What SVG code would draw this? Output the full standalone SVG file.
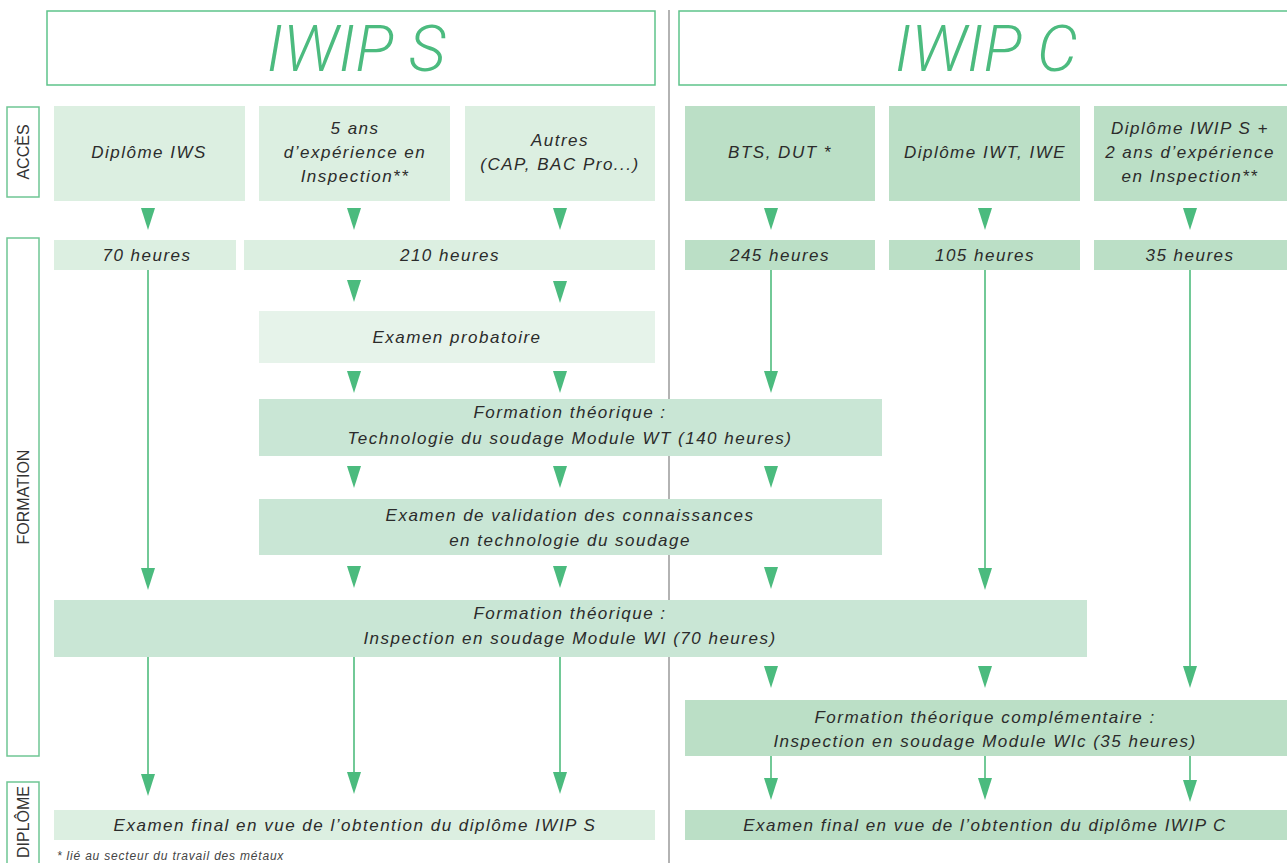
<svg xmlns="http://www.w3.org/2000/svg" xmlns:xlink="http://www.w3.org/1999/xlink" width="1287" height="863" viewBox="0 0 1287 863">
<style>
.t{font-family:"Liberation Sans",Arial,sans-serif;font-style:italic;font-size:17px;fill:#2b2b2b;text-anchor:middle;letter-spacing:1.5px}
.h{font-family:Roboto,"Liberation Sans",sans-serif;font-style:italic;font-weight:300;font-size:64px;fill:#4cbb7f;text-anchor:middle}
.s{font-family:"Liberation Sans",Arial,sans-serif;font-size:16px;fill:#333;text-anchor:middle}
.hb{fill:#fff;stroke:#5ec38a;stroke-width:1.5}
.sb{fill:#fff;stroke:#6fc694;stroke-width:1.5}
.l1{fill:#dcefe1}
.l0{fill:#e6f3ea}
.m{fill:#c9e6d5}
.r{fill:#bbdfc6}
.ln{stroke:#72c997;stroke-width:2;fill:none}
.ar{fill:#4bbb7e}
.fn{font-family:"Liberation Sans",Arial,sans-serif;font-style:italic;font-size:12px;fill:#444;letter-spacing:0.8px}
</style>
<defs>
<polygon id="tri" points="-7,0 7,0 0,22"/>
</defs>
<rect width="1287" height="863" fill="#fff"/>
<line x1="669" y1="10" x2="669" y2="863" stroke="#b3b3b3" stroke-width="2"/>

<g id="hdr-s"><rect class="hb" x="47" y="11" width="608" height="74"/><text class="h" x="356" y="71">IWIP S</text></g>
<g id="hdr-c"><rect class="hb" x="679" y="11" width="620" height="74"/><text class="h" x="986" y="71">IWIP C</text></g>

<g id="lbl-acces"><rect class="sb" x="7" y="107" width="32" height="90"/><text class="s" transform="translate(29,152) rotate(-90)">ACCÈS</text></g>
<g id="lbl-formation"><rect class="sb" x="7" y="238" width="32" height="518"/><text class="s" transform="translate(29,497) rotate(-90)">FORMATION</text></g>
<g id="lbl-diplome"><rect class="sb" x="7" y="782" width="32" height="90"/><text class="s" transform="translate(29,822) rotate(-90)">DIPLÔME</text></g>

<g id="a-iws"><rect class="l1" x="54" y="106" width="191" height="95"/><text class="t" x="149" y="158">Diplôme IWS</text></g>
<g id="a-5ans"><rect class="l1" x="259" y="106" width="191" height="95"/><text class="t" x="355" y="134">5 ans</text><text class="t" x="355" y="158">d’expérience en</text><text class="t" x="355" y="182">Inspection**</text></g>
<g id="a-autres"><rect class="l1" x="465" y="106" width="190" height="95"/><text class="t" x="560" y="146">Autres</text><text class="t" x="560" y="170">(CAP, BAC Pro...)</text></g>
<g id="a-bts"><rect class="r" x="685" y="106" width="190" height="95"/><text class="t" x="780" y="158">BTS, DUT  *</text></g>
<g id="a-iwt"><rect class="r" x="889" y="106" width="191" height="95"/><text class="t" x="985" y="158">Diplôme IWT, IWE</text></g>
<g id="a-iwips"><rect class="r" x="1094" y="106" width="193" height="95"/><text class="t" x="1190" y="134">Diplôme IWIP S +</text><text class="t" x="1190" y="158">2 ans d’expérience</text><text class="t" x="1190" y="182">en Inspection**</text></g>

<g id="h70"><rect class="l1" x="54" y="240" width="182" height="30"/><text class="t" x="147" y="261">70 heures</text></g>
<g id="h210"><rect class="l1" x="244" y="240" width="411" height="30"/><text class="t" x="450" y="261">210 heures</text></g>
<g id="h245"><rect class="r" x="685" y="240" width="190" height="30"/><text class="t" x="780" y="261">245 heures</text></g>
<g id="h105"><rect class="r" x="889" y="240" width="191" height="30"/><text class="t" x="985" y="261">105 heures</text></g>
<g id="h35"><rect class="r" x="1094" y="240" width="193" height="30"/><text class="t" x="1190" y="261">35 heures</text></g>

<g id="probatoire"><rect class="l0" x="259" y="311" width="396" height="52"/><text class="t" x="457" y="343">Examen probatoire</text></g>
<g id="wt"><rect class="m" x="259" y="399" width="623" height="57"/><text class="t" x="570" y="418">Formation théorique :</text><text class="t" x="570" y="444">Technologie du soudage Module WT (140 heures)</text></g>
<g id="validation"><rect class="m" x="259" y="499" width="623" height="56"/><text class="t" x="570" y="521">Examen de validation des connaissances</text><text class="t" x="570" y="546">en technologie du soudage</text></g>
<g id="wi"><rect class="m" x="54" y="600" width="1033" height="57"/><text class="t" x="570" y="619">Formation théorique :</text><text class="t" x="570" y="644">Inspection en soudage Module WI (70 heures)</text></g>
<g id="wic"><rect class="r" x="685" y="700" width="602" height="56"/><text class="t" x="985" y="723">Formation théorique complémentaire :</text><text class="t" x="985" y="747">Inspection en soudage Module WIc (35 heures)</text></g>
<g id="final-s"><rect class="l1" x="54" y="810" width="601" height="30"/><text class="t" x="355" y="831">Examen final en vue de l’obtention du diplôme IWIP S</text></g>
<g id="final-c"><rect class="r" x="685" y="810" width="602" height="30"/><text class="t" x="985" y="831">Examen final en vue de l’obtention du diplôme IWIP C</text></g>

<g id="connectors">
<line class="ln" x1="148" y1="270" x2="148" y2="570"/>
<line class="ln" x1="771" y1="270" x2="771" y2="373"/>
<line class="ln" x1="985" y1="270" x2="985" y2="570"/>
<line class="ln" x1="1190" y1="270" x2="1190" y2="668"/>
<line class="ln" x1="148" y1="657" x2="148" y2="775"/>
<line class="ln" x1="354" y1="657" x2="354" y2="775"/>
<line class="ln" x1="560" y1="657" x2="560" y2="775"/>
<line class="ln" x1="771" y1="756" x2="771" y2="780"/>
<line class="ln" x1="985" y1="756" x2="985" y2="780"/>
<line class="ln" x1="1190" y1="756" x2="1190" y2="782"/>
<g class="ar">
<use xlink:href="#tri" x="148" y="208"/><use xlink:href="#tri" x="354" y="208"/><use xlink:href="#tri" x="560" y="208"/>
<use xlink:href="#tri" x="771" y="208"/><use xlink:href="#tri" x="985" y="208"/><use xlink:href="#tri" x="1190" y="208"/>
<use xlink:href="#tri" x="354" y="280"/><use xlink:href="#tri" x="560" y="281"/>
<use xlink:href="#tri" x="354" y="371"/><use xlink:href="#tri" x="560" y="371"/><use xlink:href="#tri" x="771" y="371"/>
<use xlink:href="#tri" x="354" y="466"/><use xlink:href="#tri" x="560" y="466"/><use xlink:href="#tri" x="771" y="466"/>
<use xlink:href="#tri" x="148" y="568"/><use xlink:href="#tri" x="354" y="566"/><use xlink:href="#tri" x="560" y="566"/><use xlink:href="#tri" x="771" y="567"/><use xlink:href="#tri" x="985" y="568"/>
<use xlink:href="#tri" x="771" y="666"/><use xlink:href="#tri" x="985" y="666"/><use xlink:href="#tri" x="1190" y="666"/>
<use xlink:href="#tri" x="148" y="774"/><use xlink:href="#tri" x="354" y="772"/><use xlink:href="#tri" x="560" y="772"/>
<use xlink:href="#tri" x="771" y="778"/><use xlink:href="#tri" x="985" y="778"/><use xlink:href="#tri" x="1190" y="780"/>
</g>
</g>
<text class="fn" x="57" y="860">*  lié au secteur du travail des métaux</text>
</svg>
